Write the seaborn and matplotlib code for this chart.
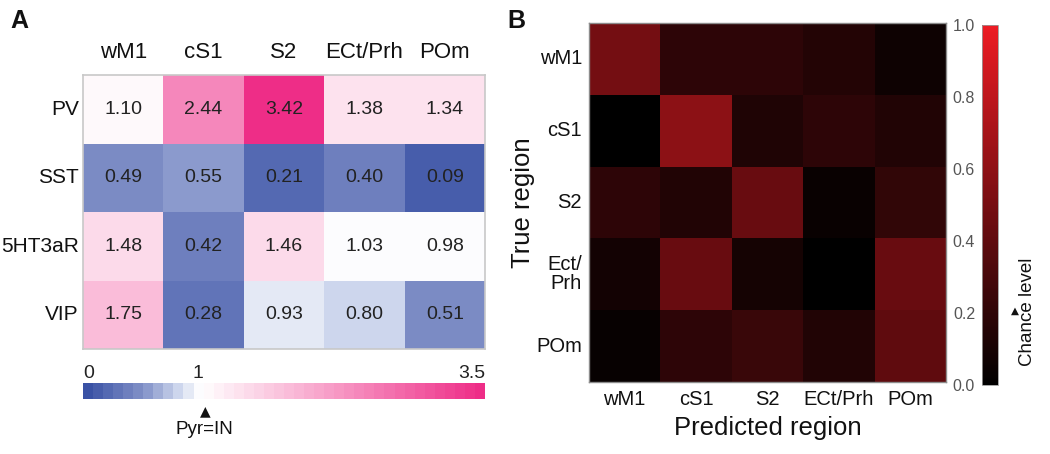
import numpy as np
import pandas as pd
import seaborn as sns
import matplotlib
matplotlib.use("Agg")
from matplotlib import pyplot as plt
from matplotlib.colors import LinearSegmentedColormap

# Panel A: Pyr/IN ratio per cell type and region
regions = ["wM1", "cS1", "S2", "ECt/Prh", "POm"]
cell_types = ["PV", "SST", "5HT3aR", "VIP"]
pv = [1.10, 2.44, 3.42, 1.38, 1.34]
sst = [0.49, 0.55, 0.21, 0.40, 0.09]
htr3a = [1.48, 0.42, 1.46, 1.03, 0.98]
vip = [1.75, 0.28, 0.93, 0.80, 0.51]

# Panel B: confusion matrix (true x predicted)
true_labels = ["wM1", "cS1", "S2", "Ect/\nPrh", "POm"]
pred_labels = ["wM1", "cS1", "S2", "ECt/Prh", "POm"]
conf_wm1 = [0.49, 0.19, 0.19, 0.15, 0.06]
conf_cs1 = [0.00, 0.59, 0.13, 0.19, 0.14]
conf_s2 = [0.19, 0.14, 0.44, 0.04, 0.21]
conf_ect = [0.08, 0.44, 0.09, 0.00, 0.44]
conf_pom = [0.03, 0.19, 0.24, 0.14, 0.40]

sns.set_theme(style="white")
plt.rcParams["font.family"] = ["Liberation Sans", "DejaVu Sans"]

W, H = 1050, 454
fig = plt.figure(figsize=(W / 100, H / 100), dpi=100)


def box(x0, y0, x1, y1):
    # pixel box -> figure fraction rect
    return [x0 / W, 1 - y1 / H, (x1 - x0) / W, (y1 - y0) / H]


# ---------- Panel A ----------
df_a = pd.DataFrame([pv, sst, htr3a, vip], index=cell_types, columns=regions)
vmax = 3.5
ratio_cmap = LinearSegmentedColormap.from_list(
    "pyr_in",
    [(0.0, "#3a52a5"), (0.5 / vmax, "#8291c8"), (0.8 / vmax, "#cbd4ec"),
     (1.0 / vmax, "#ffffff"), (1.0, "#ee2d87")],
    N=40,
)

ax_a = fig.add_axes(box(83, 75, 485, 349))
cax_a = fig.add_axes(box(83, 383, 485, 399))
sns.heatmap(df_a, ax=ax_a, cmap=ratio_cmap, vmin=0, vmax=vmax,
            annot=True, fmt=".2f", annot_kws={"size": 14, "color": "#222222"},
            cbar_ax=cax_a, cbar_kws={"orientation": "horizontal"})
ax_a.xaxis.tick_top()
ax_a.tick_params(axis="x", length=0, pad=9, labelsize=16, labelcolor="#111111")
ax_a.tick_params(axis="y", length=0, pad=3, labelsize=15, labelcolor="#111111")
plt.setp(ax_a.get_yticklabels(), rotation=0)
ax_a.set_xlabel("")
ax_a.set_ylabel("")
for s in ax_a.spines.values():
    s.set_visible(True)
    s.set_color("#c8c8c8")
    s.set_linewidth(1.2)

cbar_a = ax_a.collections[0].colorbar
cbar_a.set_ticks([0, 1, 3.5])
cbar_a.set_ticklabels(["0", "1", "3.5"])
cax_a.xaxis.set_ticks_position("top")
cax_a.tick_params(length=0, pad=1, labelsize=14, labelcolor="#222222")
labs = cax_a.get_xticklabels()
labs[0].set_horizontalalignment("left")
labs[-1].set_horizontalalignment("right")
cbar_a.outline.set_visible(False)

fig.text(205 / W, 1 - 411 / H, "▲", ha="center", va="center", fontsize=10,
         family=["DejaVu Sans"], color="#111111")
fig.text(204 / W, 1 - 429 / H, "Pyr=IN", ha="center", va="center",
         fontsize=13.5, color="#111111")
fig.text(10 / W, 1 - 21 / H, "A", ha="left", va="center", fontsize=18,
         fontweight="bold", color="#111111")

# ---------- Panel B ----------
df_b = pd.DataFrame([conf_wm1, conf_cs1, conf_s2, conf_ect, conf_pom],
                    index=true_labels, columns=pred_labels)
red_cmap = LinearSegmentedColormap.from_list("black_red", ["#000000", "#ed1c24"])

ax_b = fig.add_axes(box(589, 23, 946, 382))
cax_b = fig.add_axes(box(982, 25, 998, 385))
sns.heatmap(df_b, ax=ax_b, cmap=red_cmap, vmin=0, vmax=1, cbar_ax=cax_b)
ax_b.tick_params(axis="x", length=0, pad=6, labelsize=14.5, labelcolor="#111111")
ax_b.tick_params(axis="y", length=0, pad=5, labelsize=14.5, labelcolor="#111111")
plt.setp(ax_b.get_yticklabels(), rotation=0, linespacing=1.0)
ax_b.set_xlabel("Predicted region", fontsize=18.5, labelpad=5, color="#111111")
ax_b.set_ylabel("True region", fontsize=18.5, labelpad=1, color="#111111")
for s in ax_b.spines.values():
    s.set_visible(True)
    s.set_color("#8c8c8c")
    s.set_linewidth(1.0)

cbar_b = ax_b.collections[0].colorbar
cbar_b.set_ticks([0, 0.2, 0.4, 0.6, 0.8, 1.0])
cbar_b.set_ticklabels(["0.0", "0.2", "0.4", "0.6", "0.8", "1.0"])
cax_b.yaxis.set_ticks_position("left")
cax_b.tick_params(length=0, pad=5, labelsize=11.5, labelcolor="#555555")
cbar_b.outline.set_edgecolor("#999999")
cbar_b.outline.set_linewidth(0.6)

fig.text(1028 / W, 1 - 312 / H, "Chance level", rotation=90, ha="center",
         va="center", fontsize=13.5, color="#111111")
fig.text(1015 / W, 1 - 311 / H, "▲", ha="center", va="center", fontsize=7.5,
         family=["DejaVu Sans"], color="#111111")
fig.text(507 / W, 1 - 21 / H, "B", ha="left", va="center", fontsize=18,
         fontweight="bold", color="#111111")

fig.savefig("out.png", dpi=100)
plt.close(fig)
